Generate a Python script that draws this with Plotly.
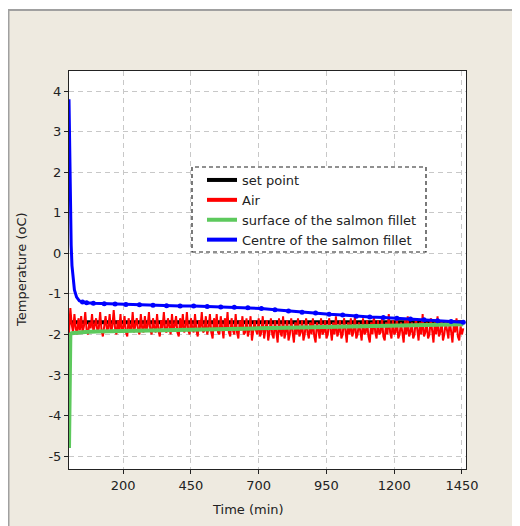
import plotly.graph_objects as go

# ---- data ----
x_ticks = [200, 450, 700, 950, 1200, 1450]
y_ticks = [4, 3, 2, 1, 0, -1, -2, -3, -4, -5]
y_tick_labels = ["4", "3", "2", "1", "0", "-1", "-2", "-3", "-4", "-5"]

setpoint_t = [0, 1455]
setpoint_v = [-1.7, -1.7]

air_v = [
    -2.0, -1.35, -1.75, -1.95, -1.5, -1.85, -2.0, -1.6, -1.9, -1.55,
    -1.95, -1.8, -1.45, -1.9, -2.0, -1.7, -1.85, -1.5, -1.95, -1.8,
    -1.6, -1.95, -1.85, -1.45, -1.9, -2.05, -1.75, -1.55, -1.9, -1.85,
    -1.5, -1.95, -1.8, -1.4, -1.85, -2.0, -1.65, -1.9, -1.5, -1.95,
    -1.85, -1.55, -1.95, -2.05, -1.6, -1.85, -1.9, -1.45, -1.95, -1.8,
    -1.6, -1.9, -2.0, -1.5, -1.85, -1.95, -1.55, -1.9, -1.8, -1.45,
    -1.9, -2.0, -1.6, -1.85, -1.95, -1.5, -1.9, -2.05, -1.65, -1.85,
    -1.45, -1.9, -1.95, -1.6, -1.85, -2.0, -1.5, -1.9, -1.8, -1.55,
    -1.95, -2.05, -1.6, -1.9, -1.5, -1.95, -1.85, -1.45, -1.9, -2.0,
    -1.6, -1.85, -1.95, -1.5, -1.9, -2.05, -1.65, -1.85, -1.45, -1.95,
    -1.9, -1.55, -2.0, -1.85, -1.5, -1.95, -2.1, -1.6, -1.9, -1.5,
    -1.95, -2.0, -1.55, -1.85, -2.1, -1.6, -1.9, -1.45, -1.95, -2.05,
    -1.6, -1.9, -2.0, -1.5, -1.95, -2.1, -1.65, -1.9, -1.55, -2.0,
    -1.95, -1.6, -2.05, -1.9, -1.55, -2.15, -1.95, -1.65, -1.9, -2.0,
    -1.6, -2.05, -1.95, -1.55, -2.1, -1.9, -1.65, -2.15, -1.95, -1.6,
    -2.0, -2.1, -1.65, -1.95, -2.2, -1.6, -1.95, -2.05, -1.55, -2.1,
    -1.95, -1.65, -2.15, -2.0, -1.6, -1.95, -2.2, -1.7, -2.0, -1.6,
    -2.05, -1.95, -1.65, -2.15, -2.0, -1.6, -1.95, -2.1, -1.7, -2.0,
    -1.6, -2.05, -2.2, -1.7, -1.95, -2.1, -1.6, -2.0, -1.95, -1.65,
    -2.1, -2.0, -1.6, -1.95, -2.15, -1.7, -2.0, -1.55, -2.05, -1.95,
    -1.65, -2.1, -2.0, -1.6, -1.95, -2.2, -1.7, -2.0, -1.6, -2.05,
    -1.95, -1.55, -2.1, -2.0, -1.7, -1.95, -2.15, -1.6, -2.0, -1.95,
    -1.65, -2.05, -2.2, -1.7, -2.0, -1.55, -1.95, -2.1, -1.65, -2.0,
    -1.95, -1.6, -2.05, -2.15, -1.7, -2.0, -1.5, -1.95, -2.1, -1.65,
    -2.0, -1.95, -1.6, -2.1, -2.0, -1.7, -1.95, -2.2, -1.65, -2.0,
    -1.55, -2.05, -1.95, -1.7, -2.1, -2.0, -1.6, -1.95, -2.15, -1.7,
    -2.0, -1.5, -2.05, -1.95, -1.7, -2.1, -2.0, -1.6, -1.95, -2.2,
    -1.7, -2.0, -1.55, -2.05, -1.95, -1.65, -2.15, -2.0, -1.7, -1.95,
    -2.1, -1.65, -2.0, -2.2, -1.75, -1.95, -1.6, -2.05, -2.15, -1.8,
    -2.0, -1.85,
]
air_t = list(range(0, 5 * len(air_v), 5))

surface_t = [0, 1, 2, 3, 5, 10, 30, 60, 100, 200, 300, 450, 600, 700, 850, 950, 1100, 1200, 1350, 1455]
surface_v = [-4.8, -3.2, -2.9, -2.2, -2.0, -1.97, -1.95, -1.94, -1.93, -1.92, -1.9, -1.88, -1.86, -1.85, -1.83, -1.82, -1.8, -1.79, -1.77, -1.75]

centre_t = [0, 1, 2, 4, 6, 8, 11, 15, 20, 28, 38, 50, 65, 90, 130, 170, 210, 260, 310, 360, 410, 460,
            510, 560, 610, 660, 710, 760, 810, 860, 910, 960, 1010, 1060, 1110, 1160, 1210, 1260, 1310, 1360, 1410, 1455]
centre_v = [3.8, 3.3, 2.7, 1.6, 0.9, 0.2, -0.3, -0.65, -0.9, -1.08, -1.17, -1.2, -1.22, -1.23, -1.24, -1.25, -1.26, -1.27, -1.28, -1.29, -1.3, -1.3,
            -1.31, -1.32, -1.33, -1.34, -1.36, -1.39, -1.42, -1.45, -1.47, -1.5, -1.52, -1.55, -1.57, -1.58, -1.6, -1.62, -1.64, -1.66, -1.68, -1.7]

series_names = ["set point", "Air", "surface of the salmon fillet", "Centre of the salmon fillet"]
series_colors = ["black", "#ff0000", "#5dc95d", "#0000ff"]

FONT = "DejaVu Sans"

fig = go.Figure()
fig.add_trace(go.Scatter(x=setpoint_t, y=setpoint_v, mode="lines", showlegend=False,
                         line=dict(color=series_colors[0], width=4)))
fig.add_trace(go.Scatter(x=air_t, y=air_v, mode="lines", showlegend=False,
                         line=dict(color=series_colors[1], width=2)))
fig.add_trace(go.Scatter(x=surface_t, y=surface_v, mode="lines", showlegend=False,
                         line=dict(color=series_colors[2], width=4)))
fig.add_trace(go.Scatter(x=centre_t, y=centre_v, mode="lines", showlegend=False,
                         line=dict(color=series_colors[3], width=3)))
fig.add_trace(go.Scatter(x=centre_t[11:], y=centre_v[11:], mode="markers", showlegend=False,
                         marker=dict(color=series_colors[3], size=5)))
# legend entries (thick sample lines as in the reference)
for nm, col in zip(series_names, series_colors):
    fig.add_trace(go.Scatter(x=[None], y=[None], mode="lines", name=nm,
                             line=dict(color=col, width=4)))

axis_common = dict(
    showline=True, linecolor="#222", linewidth=1, mirror=True,
    showgrid=True, gridcolor="#c8c8c8", gridwidth=1, griddash="5px,4px",
    ticks="outside", ticklen=4, tickcolor="#222",
    tickfont=dict(family=FONT, size=13, color="#222"),
    zeroline=False,
)

fig.update_xaxes(range=[0, 1465], tickvals=x_ticks, **axis_common)
fig.update_yaxes(range=[-5.32, 4.5], tickvals=y_ticks, ticktext=y_tick_labels, **axis_common)

OFF = 8  # page body margin
W, H = 520 - OFF, 526 - OFF
# plot area in page pixels
L, R, T, B = 69, 466, 71, 469
pw, ph = R - L, B - T


def px(xp):
    return (xp - L) / pw


def py(yp):
    return (B - yp) / ph


shapes = [
    dict(type="rect", xref="paper", yref="paper", x0=px(0), x1=px(530), y0=py(10), y1=py(0),
         fillcolor="white", line=dict(width=0), layer="below"),
    dict(type="line", xref="paper", yref="paper", x0=px(8), x1=px(530), y0=py(10), y1=py(10),
         line=dict(color="#a0a0a0", width=2)),
    dict(type="line", xref="paper", yref="paper", x0=px(8.5), x1=px(8.5), y0=py(10), y1=py(540),
         line=dict(color="#a0a0a0", width=2)),
    # dashed legend frame
    dict(type="rect", xref="paper", yref="paper", x0=px(192), x1=px(426), y0=py(252), y1=py(167),
         fillcolor="white", line=dict(color="#222", width=1.2, dash="4px,3px"), layer="above"),
]

fig.update_layout(
    width=W, height=H,
    margin=dict(l=L - OFF, r=520 - R, t=T - OFF, b=526 - B),
    paper_bgcolor="#eeeae0",
    plot_bgcolor="white",
    font=dict(family=FONT, size=13, color="#222"),
    showlegend=True,
    legend=dict(x=px(202), y=py(165), xanchor="left", yanchor="top",
                bgcolor="rgba(0,0,0,0)", borderwidth=0,
                font=dict(family=FONT, size=13, color="#222"),
                tracegroupgap=0, itemwidth=30),
    shapes=shapes,
    annotations=[
        dict(text="Time (min)", xref="paper", yref="paper", x=px(248), y=py(509),
             xanchor="center", yanchor="middle", showarrow=False,
             font=dict(family=FONT, size=13, color="#222")),
        dict(text="Temperature (oC)", xref="paper", yref="paper", x=px(21), y=py(270),
             xanchor="center", yanchor="middle", showarrow=False, textangle=-90,
             font=dict(family=FONT, size=13, color="#222")),
    ],
)

fig.write_html("out.html")
